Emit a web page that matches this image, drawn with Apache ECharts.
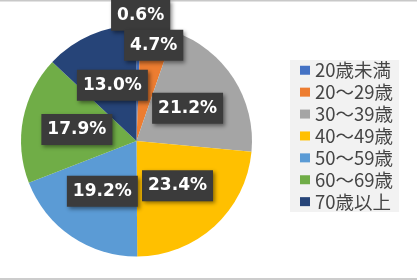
<!DOCTYPE html>
<html>
<head>
<meta charset="utf-8">
<script src="https://cdn.jsdelivr.net/npm/echarts@6/dist/echarts.min.js"></script>
<style>
html,body{margin:0;padding:0;background:#fff;}
#c{width:417px;height:280px;}
</style>
</head>
<body>
<div id="c"></div>
<script>
var categories = ['20歳未満','20～29歳','30～39歳','40～49歳','50～59歳','60～69歳','70歳以上'];
var values = [0.6, 4.7, 21.2, 23.4, 19.2, 17.9, 13.0];
var colors = ['#4472C4','#ED7D31','#A5A5A5','#FFC000','#5B9BD5','#70AD47','#264478'];

var chart = echarts.init(document.getElementById('c'), null, {renderer:'canvas'});
var data = categories.map(function(n,i){ return {name:n, value:values[i], itemStyle:{color:colors[i]}}; });

chart.setOption({
  animation:false,
  backgroundColor:'#ffffff',
  graphic:[
    {type:'rect', shape:{x:0,y:0,width:417,height:1.5}, style:{fill:'#c8c8c8'}, silent:true},
    {type:'rect', shape:{x:0,y:278,width:417,height:2}, style:{fill:'#cccccc'}, silent:true}
  ],
  legend:{
    orient:'vertical',
    left:290, top:60,
    backgroundColor:'#f2f2f2',
    padding:[1,6,1,10],
    itemWidth:10, itemHeight:9,
    itemGap:3.4,
    icon:'rect',
    textStyle:{fontFamily:'Noto Sans CJK JP', fontSize:18.5, lineHeight:18.3, color:'#454545', padding:[0,0,0,0]},
    data:categories
  },
  series:[{
    type:'pie',
    center:[136.5,141],
    radius:[0,115.5],
    startAngle:90,
    clockwise:true,
    data:data,
    itemStyle:{borderWidth:0},
    labelLine:{show:false},
    label:{
      show:true,
      position:'inside',
      formatter:function(p){ return p.value.toFixed(1)+'%'; },
      fontFamily:'DejaVu Sans',
      fontWeight:'bold',
      fontSize:17,
      lineHeight:17,
      color:'#ffffff',
      backgroundColor:'#3b3b3b',
      padding:[7,6,7,6],
      shadowColor:'rgba(0,0,0,0.45)',
      shadowBlur:4,
      shadowOffsetX:2,
      shadowOffsetY:2
    },
    labelLayout:function(p){
      if(p.dataIndex===0) return {dx:3, dy:-65};
      if(p.dataIndex===1) return {dx:6, dy:-36};
      return {};
    },
    emphasis:{disabled:true}
  }]
});
</script>
</body>
</html>
